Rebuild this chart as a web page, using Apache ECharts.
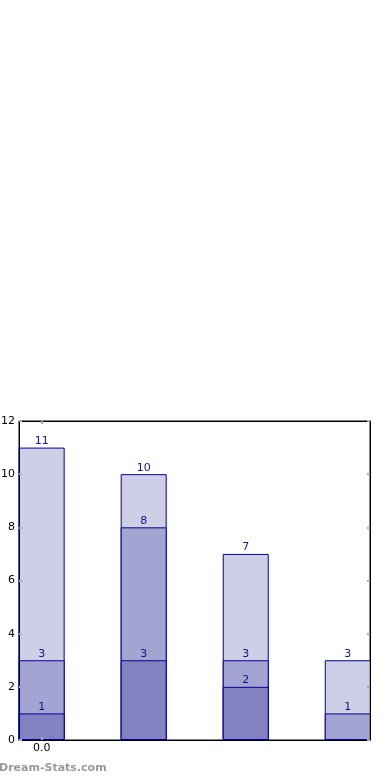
<!DOCTYPE html>
<html><head><meta charset="utf-8">
<script src="https://cdn.jsdelivr.net/npm/echarts@6/dist/echarts.min.js"></script>
<style>html,body{margin:0;padding:0;background:#fff}#c{width:390px;height:780px}</style>
</head><body><div id="c"></div>
<script>
const positions = [0, 1, 2, 3];
const totalValues = [11, 10, 7, 3];
const midValues = [3, 8, 3, 1];
const lowValues = [1, 3, 2, null];
const xTickValues = [0];
const xTickLabels = ['0.0'];
const yTicks = [0, 2, 4, 6, 8, 10, 12];

const edge = '#00009a';
function mk(vals, color, z) {
  return {
    type: 'bar', barWidth: 46, barGap: '-100%', z: z,
    data: positions.map((p, i) => [p, vals[i]]),
    itemStyle: { color: color, borderColor: edge, borderWidth: 1 },
    label: { show: true, position: 'top', distance: 1, color: '#10109a', fontSize: 11, fontFamily: 'DejaVu Sans',
      formatter: p => p.value[1] == null ? '' : String(p.value[1]) }
  };
}
const chart = echarts.init(document.getElementById('c'));
const tickStyle = { show: true, inside: true, length: 3, lineStyle: { color: '#aaa', width: 2 } };
const xMin = -0.222, xMax = 3.218;
chart.setOption({
  animation: false,
  grid: { left: 19, right: 20, top: 421, bottom: 40, show: true, borderColor: '#000', borderWidth: 1, containLabel: false, outerBoundsMode: 'none' },
  xAxis: [{
    type: 'value', min: xMin, max: xMax, position: 'bottom', z: 10,
    axisLine: { show: true, onZero: false, lineStyle: { color: '#000' } },
    splitLine: { show: false },
    axisTick: Object.assign({ customValues: xTickValues }, tickStyle),
    axisLabel: { customValues: xTickValues, formatter: v => xTickLabels[xTickValues.indexOf(v)] || '', color: '#000', fontSize: 11, fontFamily: 'DejaVu Sans', margin: 3 }
  }, {
    type: 'value', min: xMin, max: xMax, position: 'top', z: 10,
    axisLine: { show: true, onZero: false, lineStyle: { color: '#000' } },
    splitLine: { show: false },
    axisTick: Object.assign({ customValues: xTickValues }, tickStyle),
    axisLabel: { show: false }
  }],
  yAxis: [{
    type: 'value', min: 0, max: 12, interval: 2, position: 'left', z: 10,
    axisLine: { show: true, onZero: false, lineStyle: { color: '#000' } },
    splitLine: { show: false },
    axisTick: tickStyle,
    axisLabel: { color: '#000', fontSize: 11, fontFamily: 'DejaVu Sans', margin: 4 }
  }, {
    type: 'value', min: 0, max: 12, interval: 2, position: 'right', z: 10,
    axisLine: { show: true, onZero: false, lineStyle: { color: '#000' } },
    splitLine: { show: false },
    axisTick: tickStyle,
    axisLabel: { show: false }
  }],
  series: [
    mk(totalValues, '#cecee6', 2),
    mk(midValues, '#a4a4d2', 3),
    mk(lowValues, '#8282c0', 4)
  ],
  graphic: [{
    type: 'text', left: -1, top: 763,
    style: { text: 'Dream-Stats.com', fill: '#999', font: 'bold 11px "DejaVu Sans"' }
  }]
});
</script></body></html>
